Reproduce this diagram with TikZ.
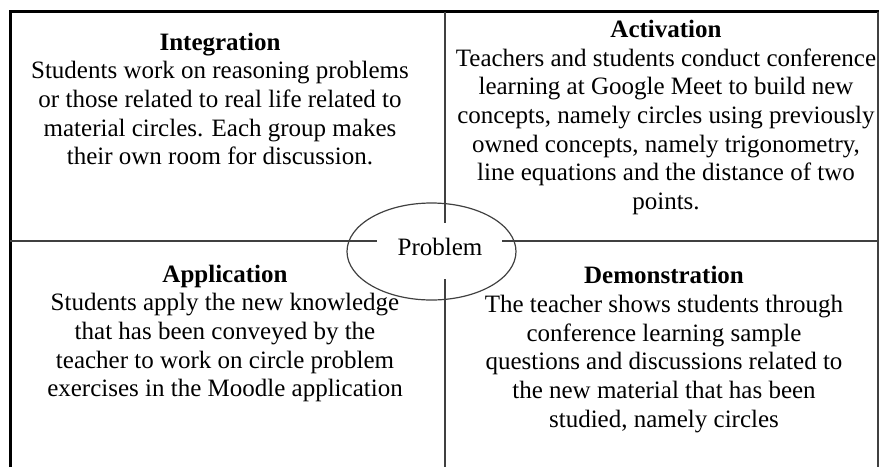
\documentclass[tikz,border=0pt]{standalone}
\usepackage{fontspec}
\setmainfont{Liberation Serif}
\usetikzlibrary{shapes.geometric}

\tikzset{
  frame/.style={line width=3pt,black},
  rule/.style={line width=1.4pt,black!75},
  stagetext/.style={align=center,inner sep=0pt,font=\fontsize{25}{28.7}\selectfont},
}

\begin{document}
\begin{tikzpicture}[x=1pt,y=-1pt]
		\useasboundingbox (0,0) rectangle (879,467);
		
		\coordinate (tl) at (10,11.5);
		\coordinate (tr) at (879,11.5);
		\coordinate (bl) at (10,467);
		\coordinate (mt) at (445,11.5);
		\coordinate (mb) at (445,467);
		\coordinate (ml) at (10,241);
		\coordinate (mr) at (879,241);
		
		\draw [frame] (bl) -- (tl) -- (tr); %外枠
		\draw [rule] (878,11.5) -- (878,467);
		
		\draw [rule] (mt) -- (445,223);
		\draw [rule] (445,279) -- (mb);
		\draw [rule] (ml) -- (377,241);
		\draw [rule] (502,241) -- (mr);
		
		\node [ellipse,draw,line width=1.2pt,black!75,inner sep=0pt,
		       minimum width=169pt,minimum height=97pt] (p) at (431.5,251.5) {};
		\node [stagetext,anchor=base] (ptext) at (440,255) {Problem};
		
		\node [stagetext] (integ) at (220,99) {\textbf{Integration}\\
		  Students work on reasoning problems\\
		  or those related to real life related to\\
		  material circles. Each group makes\\
		  their own room for discussion.};
		
		\node [stagetext] (activ) at (666,117.5) {\textbf{Activation}\\
		  Teachers and students conduct conference\\
		  learning at Google Meet to build new\\
		  concepts, namely circles using previously\\
		  owned concepts, namely trigonometry,\\
		  line equations and the distance of two\\
		  points.};
		
		\node [stagetext] (appl) at (225,333.5) {\textbf{Application}\\
		  Students apply the new knowledge\\
		  that has been conveyed by the\\
		  teacher to work on circle problem\\
		  exercises in the Moodle application};
		
		\node [stagetext] (demo) at (664,349.5) {\textbf{Demonstration}\\
		  The teacher shows students through\\
		  conference learning sample\\
		  questions and discussions related to\\
		  the new material that has been\\
		  studied, namely circles};
		
\end{tikzpicture}
\end{document}
